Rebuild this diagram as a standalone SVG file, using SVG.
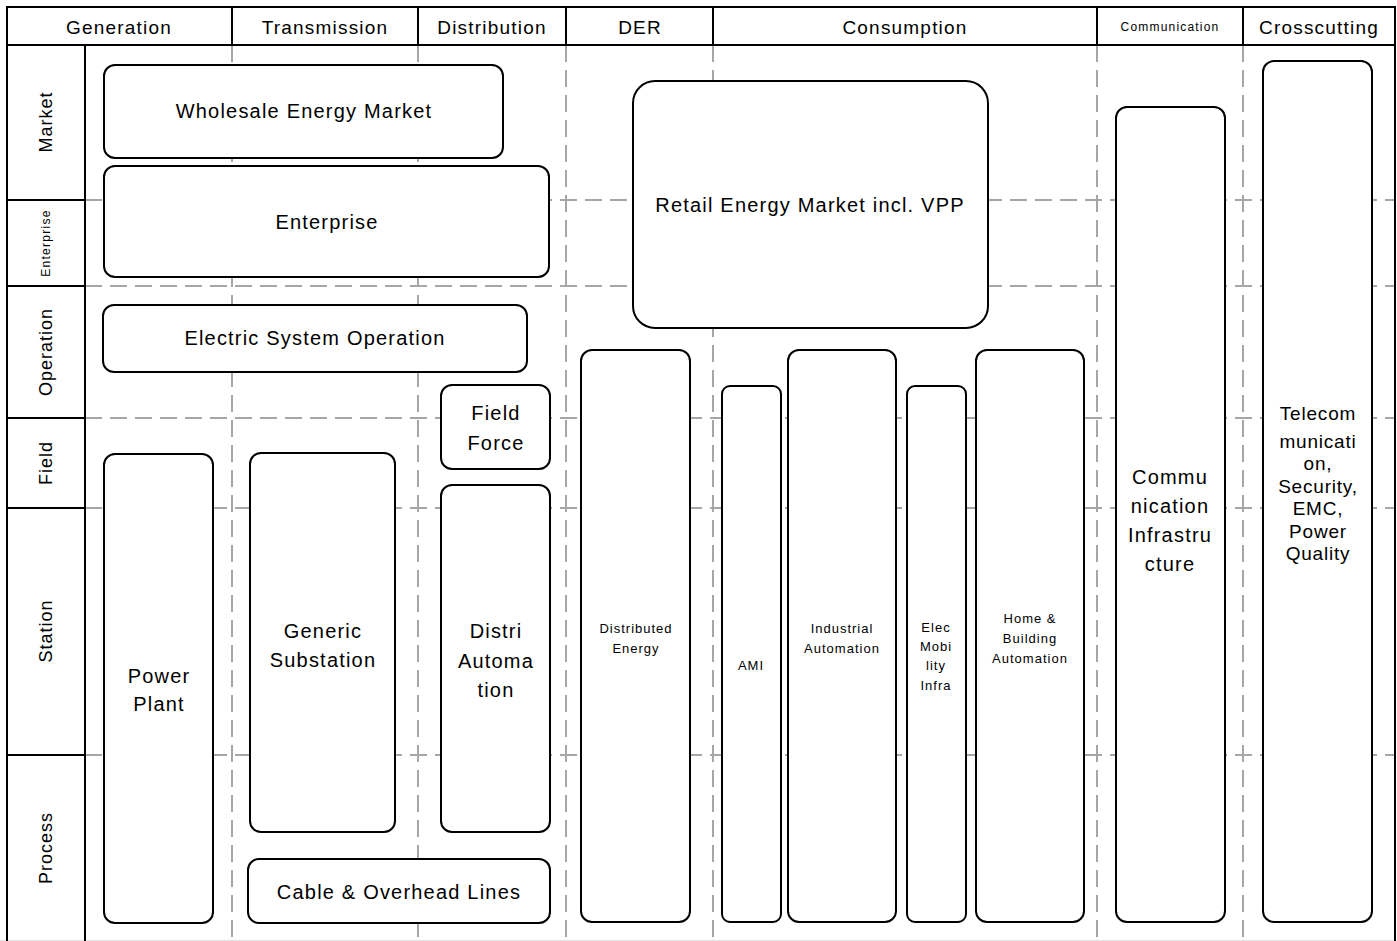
<svg xmlns="http://www.w3.org/2000/svg" width="1397" height="941" viewBox="0 0 1397 941">
<style>
.bg{fill:#fff}
.frame{fill:none;stroke:#000;stroke-width:2}
.grid{stroke:#a6a6a6;stroke-width:2;stroke-dasharray:17 8;fill:none}
.node rect{fill:#fff;stroke:#000;stroke-width:2}
text{font-family:"Liberation Sans",Arial,sans-serif;fill:#000;text-anchor:middle;dominant-baseline:central}
.h{font-size:19px;letter-spacing:1.2px}
.hs{font-size:12px;letter-spacing:1.2px}
.r{font-size:18px;letter-spacing:1px}
.rs{font-size:12px;letter-spacing:1.3px}
.t{font-size:20px;letter-spacing:1.2px}
.s{font-size:13px;letter-spacing:1px}
.m{font-size:19px;letter-spacing:0.8px}
</style>
<rect class="bg" x="0" y="0" width="1397" height="941"/>
<g id="grid">
<line class="grid" x1="232" y1="45" x2="232" y2="941"/>
<line class="grid" x1="418" y1="45" x2="418" y2="941"/>
<line class="grid" x1="566" y1="45" x2="566" y2="941"/>
<line class="grid" x1="713" y1="45" x2="713" y2="941"/>
<line class="grid" x1="1097" y1="45" x2="1097" y2="941"/>
<line class="grid" x1="1243" y1="45" x2="1243" y2="941"/>
<line class="grid" x1="85" y1="200" x2="1395" y2="200"/>
<line class="grid" x1="85" y1="286" x2="1395" y2="286"/>
<line class="grid" x1="85" y1="418" x2="1395" y2="418"/>
<line class="grid" x1="85" y1="508" x2="1395" y2="508"/>
<line class="grid" x1="85" y1="755" x2="1395" y2="755"/>
</g>
<g id="frame">
<line x1="0" y1="940.5" x2="1397" y2="940.5" stroke="#e3e3e3" stroke-width="1"/>
<path class="frame" d="M7,941 V7 H1395 V941"/>
<line class="frame" x1="7" y1="45" x2="1395" y2="45"/>
<line class="frame" x1="85" y1="45" x2="85" y2="941"/>
<line class="frame" x1="232" y1="7" x2="232" y2="45"/>
<line class="frame" x1="418" y1="7" x2="418" y2="45"/>
<line class="frame" x1="566" y1="7" x2="566" y2="45"/>
<line class="frame" x1="713" y1="7" x2="713" y2="45"/>
<line class="frame" x1="1097" y1="7" x2="1097" y2="45"/>
<line class="frame" x1="1243" y1="7" x2="1243" y2="45"/>
<line class="frame" x1="7" y1="200" x2="85" y2="200"/>
<line class="frame" x1="7" y1="286" x2="85" y2="286"/>
<line class="frame" x1="7" y1="418" x2="85" y2="418"/>
<line class="frame" x1="7" y1="508" x2="85" y2="508"/>
<line class="frame" x1="7" y1="755" x2="85" y2="755"/>
</g>
<g id="headers">
<text class="h" x="119" y="27">Generation</text>
<text class="h" x="325" y="27">Transmission</text>
<text class="h" x="492" y="27">Distribution</text>
<text class="h" x="640" y="27">DER</text>
<text class="h" x="905" y="27">Consumption</text>
<text class="hs" x="1170" y="27">Communication</text>
<text class="h" x="1319" y="27">Crosscutting</text>
</g>
<g id="rows">
<text class="r" transform="translate(46,122) rotate(-90)">Market</text>
<text class="rs" transform="translate(46,243) rotate(-90)">Enterprise</text>
<text class="r" transform="translate(46,352) rotate(-90)">Operation</text>
<text class="r" transform="translate(46,463) rotate(-90)">Field</text>
<text class="r" transform="translate(46,631) rotate(-90)">Station</text>
<text class="r" transform="translate(46,848) rotate(-90)">Process</text>
</g>
<g id="n-wholesale" class="node"><rect x="104" y="65" width="399" height="93" rx="11"/><text class="t" x="304" y="111">Wholesale Energy Market</text></g>
<g id="n-enterprise" class="node"><rect x="104" y="166" width="445" height="111" rx="11"/><text class="t" x="327" y="222">Enterprise</text></g>
<g id="n-retail" class="node"><rect x="633" y="81" width="355" height="247" rx="22"/><text class="t" x="810" y="205">Retail Energy Market incl. VPP</text></g>
<g id="n-eso" class="node"><rect x="103" y="305" width="424" height="67" rx="11"/><text class="t" x="315" y="338">Electric System Operation</text></g>
<g id="n-fieldforce" class="node"><rect x="441" y="385" width="109" height="84" rx="11"/><text class="t" x="496" y="413">Field</text><text class="t" x="496" y="443">Force</text></g>
<g id="n-distri" class="node"><rect x="441" y="485" width="109" height="347" rx="11"/><text class="t" x="496" y="631">Distri</text><text class="t" x="496" y="661">Automa</text><text class="t" x="496" y="690">tion</text></g>
<g id="n-powerplant" class="node"><rect x="104" y="454" width="109" height="469" rx="11"/><text class="t" x="159" y="676">Power</text><text class="t" x="159" y="704">Plant</text></g>
<g id="n-substation" class="node"><rect x="250" y="453" width="145" height="379" rx="11"/><text class="t" x="323" y="631">Generic</text><text class="t" x="323" y="660">Substation</text></g>
<g id="n-cable" class="node"><rect x="248" y="859" width="302" height="64" rx="11"/><text class="t" x="399" y="892">Cable &amp; Overhead Lines</text></g>
<g id="n-der" class="node"><rect x="581" y="350" width="109" height="572" rx="11"/><text class="s" x="636" y="628">Distributed</text><text class="s" x="636" y="648">Energy</text></g>
<g id="n-ami" class="node"><rect x="722" y="386" width="59" height="536" rx="8"/><text class="s" x="751" y="665">AMI</text></g>
<g id="n-industrial" class="node"><rect x="788" y="350" width="108" height="572" rx="11"/><text class="s" x="842" y="628">Industrial</text><text class="s" x="842" y="648">Automation</text></g>
<g id="n-emob" class="node"><rect x="907" y="386" width="59" height="536" rx="8"/><text class="s" x="936" y="627">Elec</text><text class="s" x="936" y="646">Mobi</text><text class="s" x="936" y="665">lity</text><text class="s" x="936" y="685">Infra</text></g>
<g id="n-home" class="node"><rect x="976" y="350" width="108" height="572" rx="11"/><text class="s" x="1030" y="618">Home &amp;</text><text class="s" x="1030" y="638">Building</text><text class="s" x="1030" y="658">Automation</text></g>
<g id="n-comminfra" class="node"><rect x="1116" y="107" width="109" height="815" rx="11"/><text class="t" x="1170" y="477">Commu</text><text class="t" x="1170" y="506">nication</text><text class="t" x="1170" y="535">Infrastru</text><text class="t" x="1170" y="564">cture</text></g>
<g id="n-crosscutting" class="node"><rect x="1263" y="61" width="109" height="861" rx="11"/><text class="m" x="1318" y="413">Telecom</text><text class="m" x="1318" y="441">municati</text><text class="m" x="1318" y="463">on,</text><text class="m" x="1318" y="486">Security,</text><text class="m" x="1318" y="508">EMC,</text><text class="m" x="1318" y="531">Power</text><text class="m" x="1318" y="553">Quality</text></g>
<g id="connectors"></g>
</svg>
